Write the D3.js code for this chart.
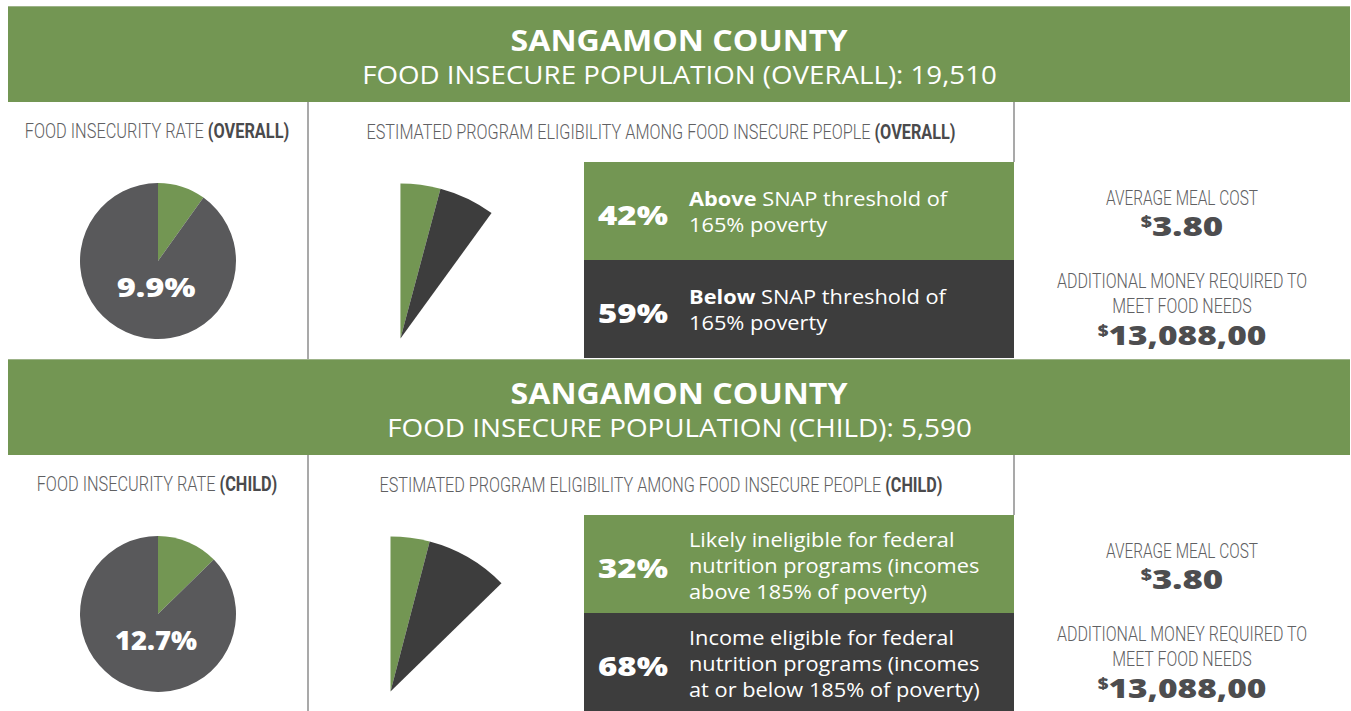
<!DOCTYPE html>
<html><head><meta charset="utf-8">
<script src="https://cdn.jsdelivr.net/npm/d3@7"></script>
<style>body{margin:0;background:#fff;} svg{display:block}</style>
</head><body>
<svg id="c" width="1351" height="711"></svg>
<script>
// ---------- DATA ----------
const county = "SANGAMON COUNTY";
const groups = ["OVERALL", "CHILD"];
const foodInsecurePopulation = [19510, 5590];
const foodInsecurityRate = [9.9, 12.7];          // percent
const eligibilityShare = [[42, 59], [32, 68]];   // percent of food insecure
const eligibilityLabels = [
  [["**Above** SNAP threshold of", "165% poverty"],
   ["**Below** SNAP threshold of", "165% poverty"]],
  [["Likely ineligible for federal", "nutrition programs (incomes", "above 185% of poverty)"],
   ["Income eligible for federal", "nutrition programs (incomes", "at or below 185% of poverty)"]]
];
const averageMealCost = [3.80, 3.80];
const additionalMoney = ["13,088,00", "13,088,00"];

// ---------- STYLE ----------
const GREEN = "#739653", DARK = "#3d3d3d", PIEGRAY = "#59595b";
const TXT = "#606062", TXTB = "#4a4a4c", VAL = "#4d4d4f";
const COND = "Roboto, 'Open Sans', sans-serif";
const SANS = "'Open Sans', 'Noto Sans', sans-serif";

const svg = d3.select("#c");
svg.append("rect").attr("width", 1351).attr("height", 711).attr("fill", "#fff");

function fitText(parent, x, y, parts, o) {
  const g = parent.append("g").attr("transform", `translate(${x},${y})`);
  const t = g.append("text").attr("text-anchor", o.anchor || "middle")
    .attr("font-family", o.family).attr("font-size", o.size).attr("fill", o.fill);
  parts.forEach(p => {
    const s = t.append("tspan").text(p.text);
    if (p.weight) s.attr("font-weight", p.weight);
    if (p.fill) s.attr("fill", p.fill);
    if (p.size) s.attr("font-size", p.size);
    if (p.dy != null) s.attr("dy", p.dy);
  });
  if (o.width) {
    const w = t.node().getComputedTextLength();
    if (w > 0) g.attr("transform", `translate(${x},${y}) scale(${o.width / w},1)`);
  } else if (o.sx) {
    g.attr("transform", `translate(${x},${y}) scale(${o.sx},1)`);
  }
  return t;
}

const pct = d3.scaleLinear().domain([0, 100]).range([0, 2 * Math.PI]);

groups.forEach((grp, i) => {
  const top = 6 + i * 353;          // banner top
  const B = top + 96;               // content top
  const g = svg.append("g");

  // banner
  g.append("rect").attr("x", 8).attr("y", top).attr("width", 1342).attr("height", 96).attr("fill", GREEN);
  g.append("rect").attr("x", 8).attr("y", top).attr("width", 1342).attr("height", 1).attr("fill", "#9db388");
  fitText(g, 679, top + 45, [{text: county}], {family: SANS, size: 29, fill: "#fff", width: 321})
    .attr("font-weight", 700);
  fitText(g, 679.5, top + 78, [{text: `FOOD INSECURE POPULATION (${grp}): ${d3.format(",")(foodInsecurePopulation[i])}`}],
    {family: SANS, size: 25, fill: "#fff", width: i === 0 ? 635 : 585});

  // dividers
  g.append("rect").attr("x", 307).attr("y", B).attr("width", 2).attr("height", 257).attr("fill", "#a9a9a9");
  g.append("rect").attr("x", 1013.5).attr("y", B).attr("width", 1).attr("height", 60).attr("fill", "#555");

  // left header
  fitText(g, 157, B + 36, [{text: "FOOD INSECURITY RATE "}, {text: `(${grp})`, weight: 700, fill: TXTB}],
    {family: COND, size: 20, fill: TXT, width: i === 0 ? 265 : 241}).attr("font-weight", 300);

  // pie
  const pcx = 158, pcy = B + 159, pr = 78;
  const rate = foodInsecurityRate[i];
  const pieData = d3.pie().sort(null)([rate, 100 - rate]);
  const arc = d3.arc().innerRadius(0).outerRadius(pr);
  g.append("g").attr("transform", `translate(${pcx},${pcy})`)
    .selectAll("path").data(pieData).join("path")
    .attr("d", arc).attr("fill", (d, k) => k === 0 ? GREEN : PIEGRAY);
  fitText(g, pcx - 2, B + 195, [{text: `${rate}%`}],
    {family: SANS, size: 27, fill: "#fff", width: i === 0 ? 73 : 77}).attr("font-weight", 800);

  // middle header
  fitText(g, 661, B + 37, [{text: "ESTIMATED PROGRAM ELIGIBILITY AMONG FOOD INSECURE PEOPLE "}, {text: `(${grp})`, weight: 700, fill: TXTB}],
    {family: COND, size: 20, fill: TXT, width: i === 0 ? 593 : 567}).attr("font-weight", 300);

  // sector (zoom of the food-insecure slice)
  const shares = eligibilityShare[i];
  const sr = 155;
  const endA = pct(rate * d3.sum(shares) / 100);
  const secData = d3.pie().sort(null).startAngle(0).endAngle(endA)(shares);
  const scx = 446 - sr * Math.sin(endA) / 2, scy = B + 159 + sr / 2;
  const sarc = d3.arc().innerRadius(0).outerRadius(sr);
  g.append("g").attr("transform", `translate(${scx},${scy})`)
    .selectAll("path").data(secData).join("path")
    .attr("d", sarc).attr("fill", (d, k) => k === 0 ? GREEN : DARK);

  // boxes
  shares.forEach((s, k) => {
    const by = B + 60 + k * 98;
    g.append("rect").attr("x", 584).attr("y", by).attr("width", 430).attr("height", 98)
      .attr("fill", k === 0 ? GREEN : DARK);
    fitText(g, 598, by + 63, [{text: `${s}%`}], {family: SANS, size: 26, fill: "#fff", anchor: "start", width: 65})
      .attr("font-weight", 800);
    const lines = eligibilityLabels[i][k];
    const n = lines.length;
    lines.forEach((ln, j) => {
      const yb = by + 57 + (j - (n - 1) / 2) * 26 + (n === 3 ? 1 : 0);
      const m = ln.match(/^\*\*(.+?)\*\*(.*)$/);
      const parts = m ? [{text: m[1], weight: 700}, {text: m[2]}] : [{text: ln}];
      fitText(g, 689, yb, parts, {family: SANS, size: 20, fill: "#fff", anchor: "start", sx: 1.09});
    });
  });

  // right column
  const rx = 1182;
  fitText(g, rx, B + 103, [{text: "AVERAGE MEAL COST"}], {family: COND, size: 20, fill: TXT, width: 154}).attr("font-weight", 300);
  fitText(g, rx, B + 134, [{text: "$", size: 15, dy: -9}, {text: d3.format(".2f")(averageMealCost[i]), dy: 9}],
    {family: SANS, size: 27, fill: VAL, width: 80}).attr("font-weight", 800);
  fitText(g, rx, B + 186, [{text: "ADDITIONAL MONEY REQUIRED TO"}], {family: COND, size: 20, fill: TXT, width: 252}).attr("font-weight", 300);
  fitText(g, rx, B + 211, [{text: "MEET FOOD NEEDS"}], {family: COND, size: 20, fill: TXT, width: 140}).attr("font-weight", 300);
  fitText(g, rx, B + 243, [{text: "$", size: 15, dy: -9}, {text: additionalMoney[i], dy: 9}],
    {family: SANS, size: 27, fill: VAL, width: 162}).attr("font-weight", 800);
});
</script>
</body></html>
